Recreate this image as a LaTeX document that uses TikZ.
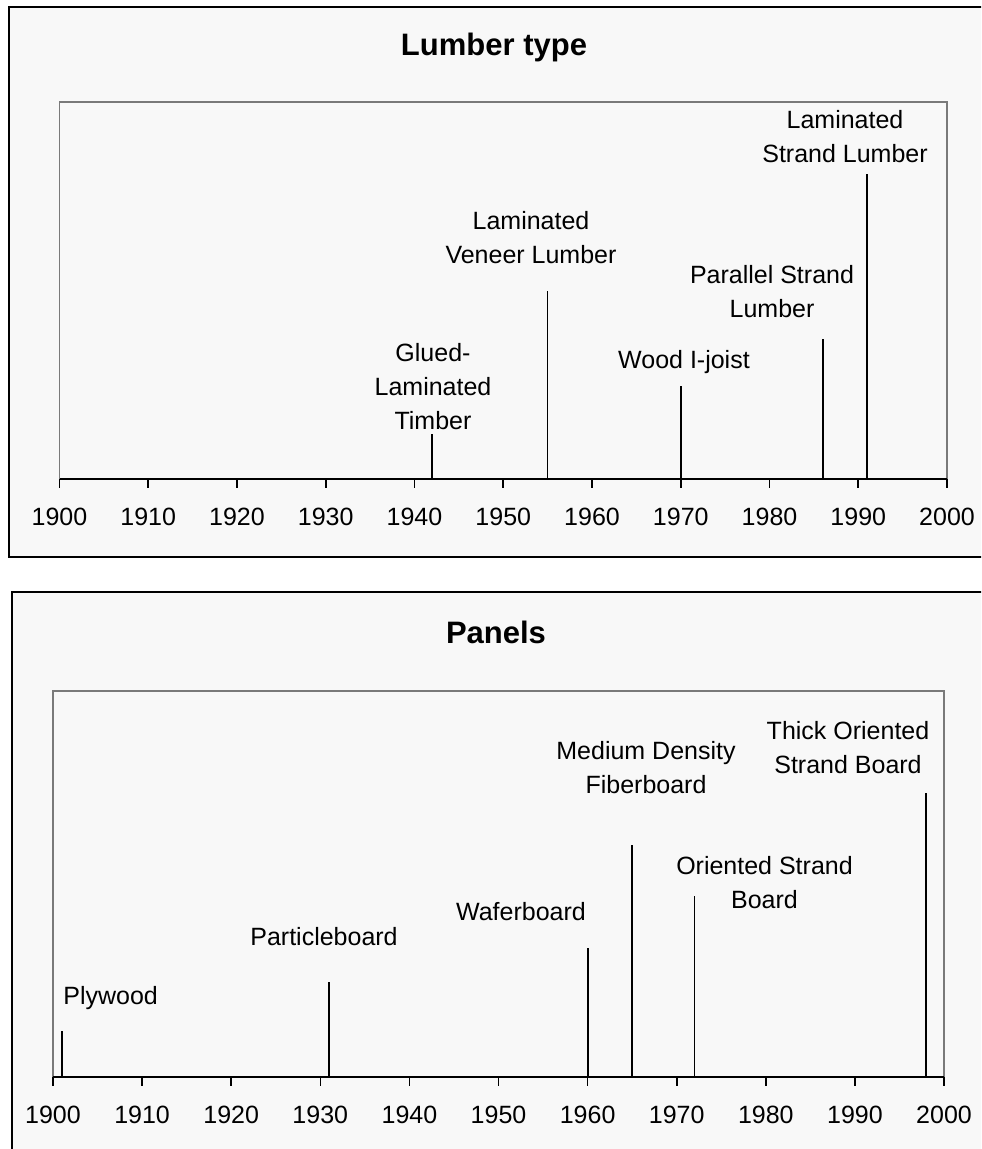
\documentclass[tikz,border=0pt]{standalone}
\usepackage{fontspec}
\setmainfont{Liberation Sans}
\definecolor{chartBg}{HTML}{F8F8F8}
\definecolor{boxGray}{HTML}{7A7A7A}
\usepackage{tikz}
\tikzset{
  chartframe/.style={draw=black, line width=0.6pt, fill=chartBg},
  plotbox/.style={draw=boxGray, line width=0.6pt},
  axisline/.style={draw=black, line width=0.8pt},
  eventline/.style={draw=black, line width=0.7pt},
  charttitle/.style={font=\bfseries\fontsize{15.5}{18}\selectfont, inner sep=0pt},
  eventlabel/.style={font=\fontsize{12.5}{17}\selectfont, align=center, inner sep=0pt},
  yearlabel/.style={font=\fontsize{12.5}{15}\selectfont, inner sep=0pt}
}

\begin{document}
\begin{tikzpicture}[x=0.5pt, y=-0.5pt]
    \useasboundingbox (0,0) rectangle (981,1149);
    \fill[white] (0,0) rectangle (981,1149);
    \clip (0,0) rectangle (981,1149);

    % ---------- Lumber type ----------
    \draw[chartframe] (9,7) rectangle (1000,557);
    \node[charttitle] (lumbertitle) at (494,47) {Lumber type};
    \draw[plotbox] (59.5,479) -- (59.5,102) -- (947,102) -- (947,479);
    \draw[axisline] (59.5,479) -- (947,479);
    % Ticks and years
    \foreach \i in {0,...,10} {
      \pgfmathsetmacro{\xx}{59.5+88.75*\i}
      \pgfmathtruncatemacro{\yr}{1900+10*\i}
      \draw[axisline] (\xx,479) -- (\xx,488);
      \node[yearlabel] (lyear\i) at (\xx,517) {\yr};
    }
    % Events
    \coordinate (glulamBase) at (432,479);   \coordinate (glulamTop) at (432,434);
    \coordinate (lvlBase) at (547.6,479);    \coordinate (lvlTop) at (547.6,291);
    \coordinate (ijoistBase) at (681,479);   \coordinate (ijoistTop) at (681,386);
    \coordinate (pslBase) at (823,479);      \coordinate (pslTop) at (823,339);
    \coordinate (lslBase) at (867,479);      \coordinate (lslTop) at (867,174);
    \draw[eventline] (glulamBase) -- (glulamTop);
    \draw[eventline] (lvlBase) -- (lvlTop);
    \draw[eventline] (ijoistBase) -- (ijoistTop);
    \draw[eventline] (pslBase) -- (pslTop);
    \draw[eventline] (lslBase) -- (lslTop);
    \node[eventlabel] (glulam) at (433,387) {Glued-\\Laminated\\Timber};
    \node[eventlabel] (lvl) at (531,238) {Laminated\\Veneer Lumber};
    \node[eventlabel] (ijoist) at (684,362) {Wood I-joist};
    \node[eventlabel] (psl) at (772,292) {Parallel Strand\\Lumber};
    \node[eventlabel] (lsl) at (845,137) {Laminated\\Strand Lumber};

    % ---------- Panels ----------
    \draw[chartframe] (12,592) rectangle (1000,1170);
    \node[charttitle] (paneltitle) at (496,632) {Panels};
    \draw[plotbox] (53,1077) -- (53,691) -- (944,691) -- (944,1077);
    \draw[axisline] (53,1077) -- (944,1077);
    % Ticks and years
    \foreach \i in {0,...,10} {
      \pgfmathsetmacro{\xx}{53+89.1*\i}
      \pgfmathtruncatemacro{\yr}{1900+10*\i}
      \draw[axisline] (\xx,1077) -- (\xx,1086);
      \node[yearlabel] (pyear\i) at (\xx,1115) {\yr};
    }
    % Events
    \coordinate (plyBase) at (62,1077);      \coordinate (plyTop) at (62,1031);
    \coordinate (partBase) at (329,1077);    \coordinate (partTop) at (329,982);
    \coordinate (waferBase) at (588,1077);   \coordinate (waferTop) at (588,948);
    \coordinate (mdfBase) at (632,1077);     \coordinate (mdfTop) at (632,845);
    \coordinate (osbBase) at (694.5,1077);   \coordinate (osbTop) at (694.5,896);
    \coordinate (tosbBase) at (926,1077);    \coordinate (tosbTop) at (926,793);
    \draw[eventline] (plyBase) -- (plyTop);
    \draw[eventline] (partBase) -- (partTop);
    \draw[eventline] (waferBase) -- (waferTop);
    \draw[eventline] (mdfBase) -- (mdfTop);
    \draw[eventline] (osbBase) -- (osbTop);
    \draw[eventline] (tosbBase) -- (tosbTop);
    \node[eventlabel, anchor=west] (plywood) at (63,998) {Plywood};
    \node[eventlabel] (particle) at (324,937) {Particleboard};
    \node[eventlabel] (wafer) at (521,912) {Waferboard};
    \node[eventlabel] (mdf) at (646,767.5) {Medium Density\\Fiberboard};
    \node[eventlabel] (osb) at (764.5,882.5) {Oriented Strand\\Board};
    \node[eventlabel] (tosb) at (848,747.5) {Thick Oriented\\Strand Board};
\end{tikzpicture}
\end{document}
